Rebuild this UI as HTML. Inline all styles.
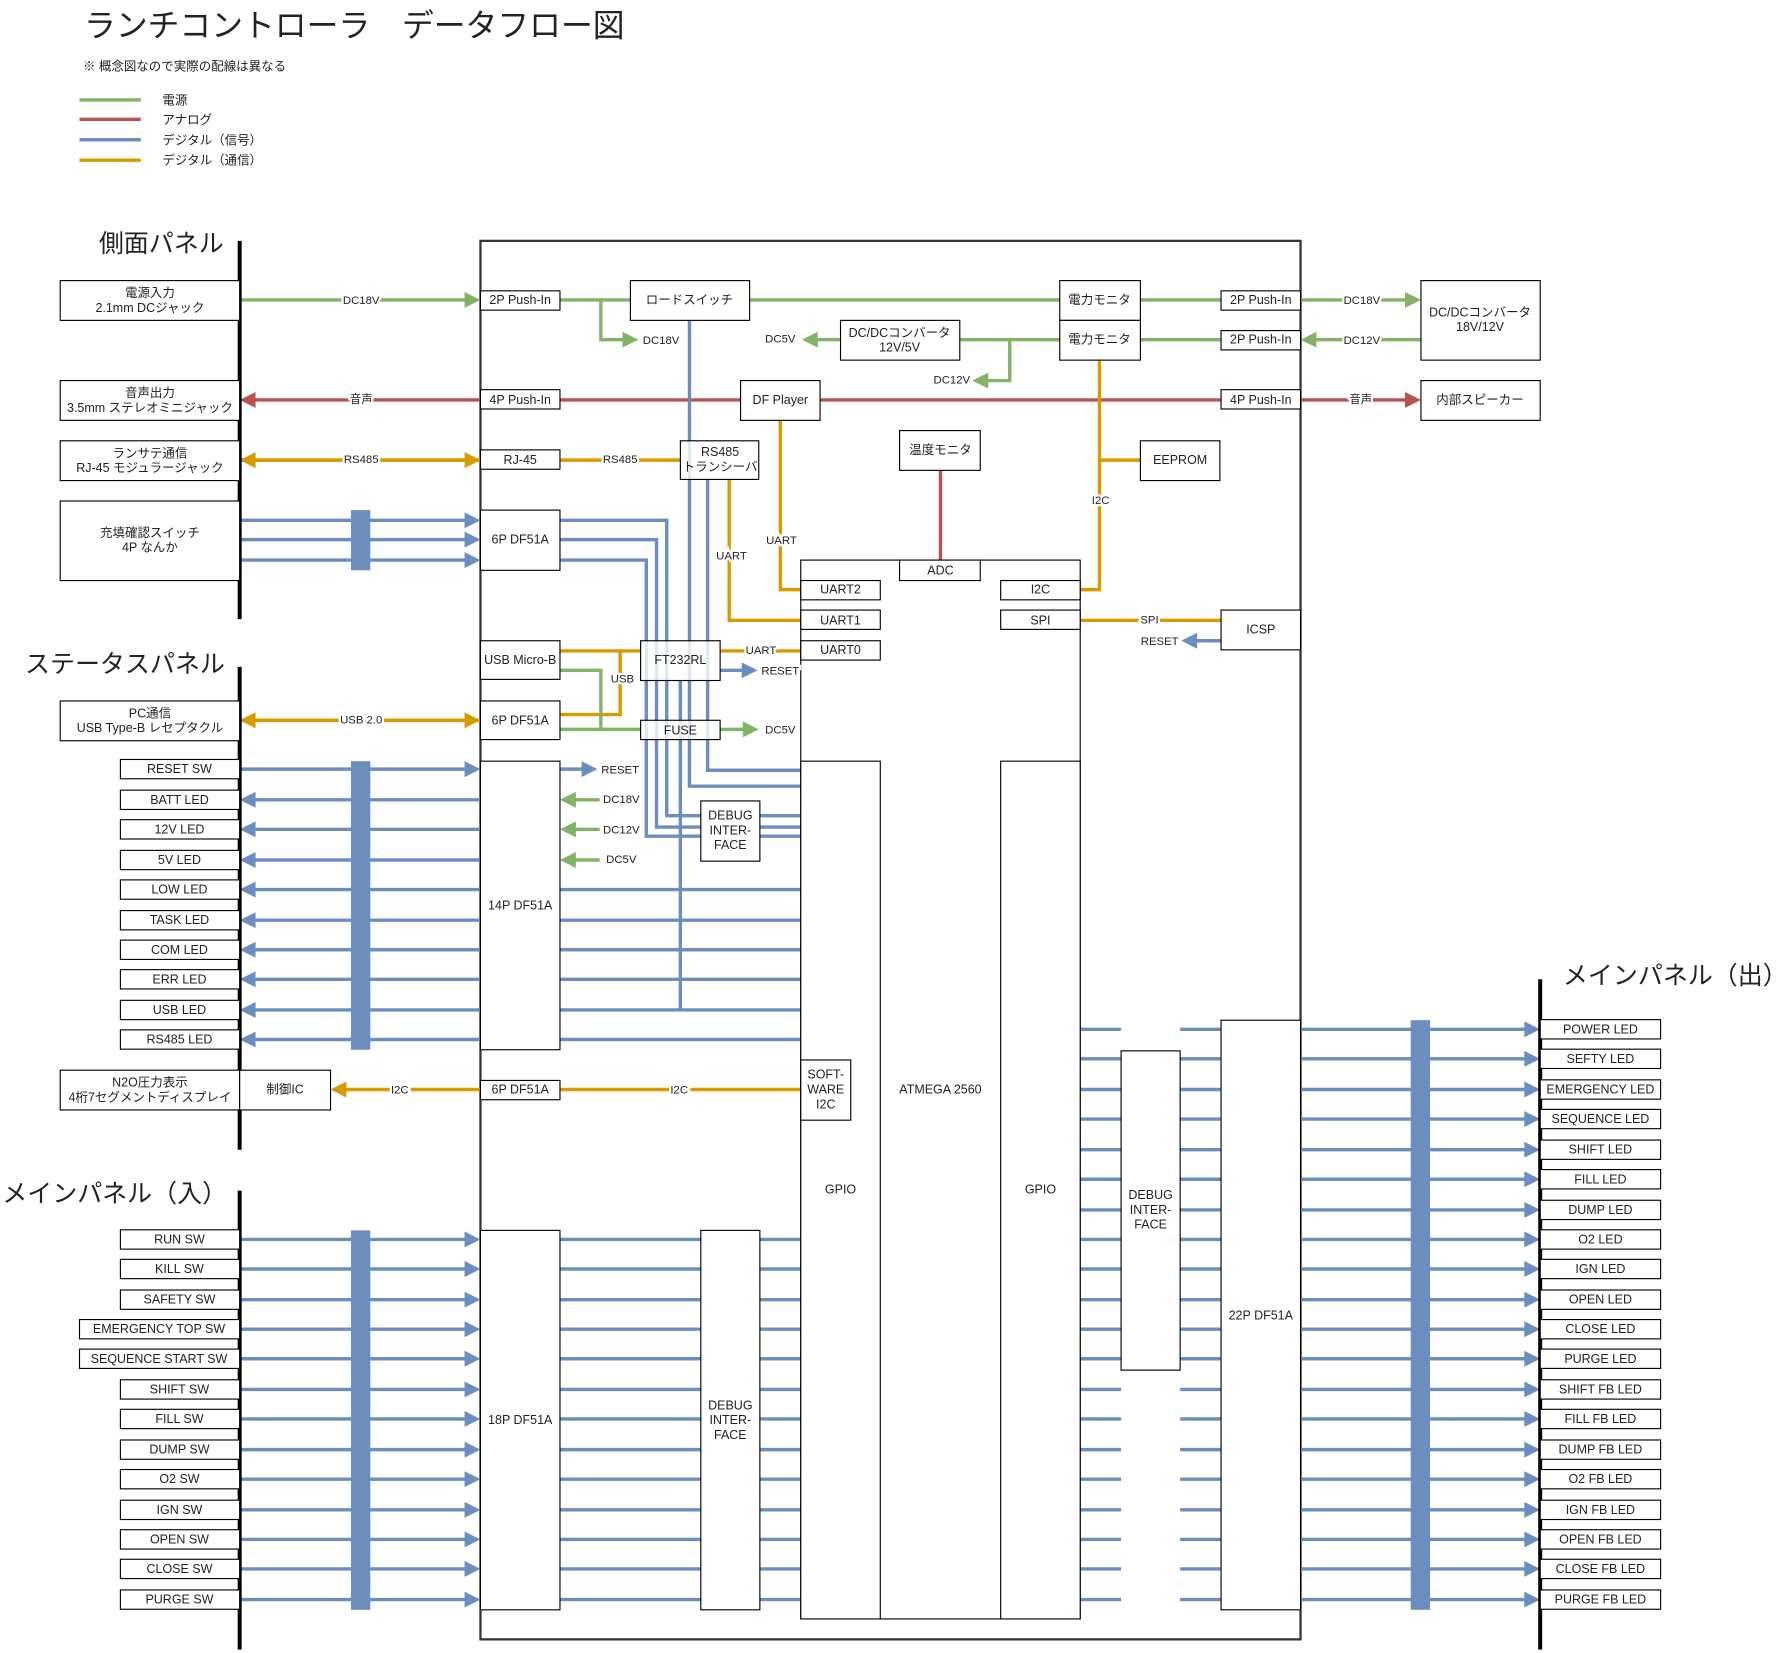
<!DOCTYPE html>
<html><head><meta charset="utf-8"><style>
html,body{margin:0;padding:0;background:#fff}
svg{display:block}
text{font-family:"Liberation Sans","Noto Sans CJK JP",sans-serif;fill:#222;font-size:11px}
.m{text-anchor:middle;dominant-baseline:central}
.lbl{text-anchor:middle;dominant-baseline:central;paint-order:stroke;stroke:#fff;stroke-width:4px;font-size:10px}
.t{font-size:28px;fill:#222}
.p{font-size:22px;fill:#222}
</style></head><body>
<svg id="s" width="1781" height="1653" viewBox="0 0 1568 1455" preserveAspectRatio="none" xmlns="http://www.w3.org/2000/svg">
<g id="geo"></g>
<g id="txt">
<text x="74" y="32" class="t">ランチコントローラ　データフロー図</text>
<text x="73" y="62">※ 概念図なので実際の配線は異なる</text>
<text x="143" y="92">電源</text>
<text x="143" y="109">アナログ</text>
<text x="143" y="127">デジタル（信号）</text>
<text x="143" y="145">デジタル（通信）</text>
<text x="87" y="222" class="p">側面パネル</text>
<text x="22" y="592" class="p">ステータスパネル</text>
<text x="2" y="1058" class="p">メインパネル（入）</text>
<text x="1376" y="866" class="p">メインパネル（出）</text>

<text x="132" y="258" class="m">電源入力</text><text x="132" y="271" class="m">2.1mm DCジャック</text>
<text x="132" y="346" class="m">音声出力</text><text x="132" y="359" class="m">3.5mm ステレオミニジャック</text>
<text x="132" y="399" class="m">ランサテ通信</text><text x="132" y="412" class="m">RJ-45 モジュラージャック</text>
<text x="132" y="469" class="m">充填確認スイッチ</text><text x="132" y="482" class="m">4P なんか</text>
<text x="132" y="628" class="m">PC通信</text><text x="132" y="641" class="m">USB Type-B レセプタクル</text>
<text x="132" y="953" class="m">N2O圧力表示</text><text x="132" y="966" class="m">4桁7セグメントディスプレイ</text>
<text x="251" y="959" class="m">制御IC</text>

<text x="158" y="677" class="m">RESET SW</text>
<text x="158" y="704" class="m">BATT LED</text>
<text x="158" y="730" class="m">12V LED</text>
<text x="158" y="757" class="m">5V LED</text>
<text x="158" y="783" class="m">LOW LED</text>
<text x="158" y="810" class="m">TASK LED</text>
<text x="158" y="836" class="m">COM LED</text>
<text x="158" y="862" class="m">ERR LED</text>
<text x="158" y="889" class="m">USB LED</text>
<text x="158" y="915" class="m">RS485 LED</text>

<text x="158" y="1091" class="m">RUN SW</text>
<text x="158" y="1117" class="m">KILL SW</text>
<text x="158" y="1144" class="m">SAFETY SW</text>
<text x="140" y="1170" class="m">EMERGENCY TOP SW</text>
<text x="140" y="1196" class="m">SEQUENCE START SW</text>
<text x="158" y="1223" class="m">SHIFT SW</text>
<text x="158" y="1249" class="m">FILL SW</text>
<text x="158" y="1276" class="m">DUMP SW</text>
<text x="158" y="1302" class="m">O2 SW</text>
<text x="158" y="1329" class="m">IGN SW</text>
<text x="158" y="1355" class="m">OPEN SW</text>
<text x="158" y="1381" class="m">CLOSE SW</text>
<text x="158" y="1408" class="m">PURGE SW</text>

<text x="1409" y="906" class="m">POWER  LED</text>
<text x="1409" y="932" class="m">SEFTY LED</text>
<text x="1409" y="959" class="m">EMERGENCY LED</text>
<text x="1409" y="985" class="m">SEQUENCE LED</text>
<text x="1409" y="1012" class="m">SHIFT LED</text>
<text x="1409" y="1038" class="m">FILL LED</text>
<text x="1409" y="1065" class="m">DUMP LED</text>
<text x="1409" y="1091" class="m">O2 LED</text>
<text x="1409" y="1117" class="m">IGN LED</text>
<text x="1409" y="1144" class="m">OPEN LED</text>
<text x="1409" y="1170" class="m">CLOSE LED</text>
<text x="1409" y="1196" class="m">PURGE LED</text>
<text x="1409" y="1223" class="m">SHIFT FB LED</text>
<text x="1409" y="1249" class="m">FILL FB LED</text>
<text x="1409" y="1276" class="m">DUMP FB LED</text>
<text x="1409" y="1302" class="m">O2 FB LED</text>
<text x="1409" y="1329" class="m">IGN FB LED</text>
<text x="1409" y="1355" class="m">OPEN FB LED</text>
<text x="1409" y="1381" class="m">CLOSE FB LED</text>
<text x="1409" y="1408" class="m">PURGE FB LED</text>

<text x="458" y="264" class="m">2P Push-In</text>
<text x="458" y="352" class="m">4P Push-In</text>
<text x="458" y="405" class="m">RJ-45</text>
<text x="458" y="475" class="m">6P DF51A</text>
<text x="458" y="581" class="m">USB Micro-B</text>
<text x="458" y="634" class="m">6P DF51A</text>
<text x="458" y="797" class="m">14P DF51A</text>
<text x="458" y="959" class="m">6P DF51A</text>
<text x="458" y="1250" class="m">18P DF51A</text>
<text x="607" y="264" class="m">ロードスイッチ</text>
<text x="968" y="264" class="m">電力モニタ</text>
<text x="968" y="299" class="m">電力モニタ</text>
<text x="792" y="293" class="m">DC/DCコンバータ</text><text x="792" y="306" class="m">12V/5V</text>
<text x="687" y="352" class="m">DF Player</text>
<text x="828" y="396" class="m">温度モニタ</text>
<text x="1039" y="405" class="m">EEPROM</text>
<text x="634" y="398" class="m">RS485</text><text x="634" y="411" class="m">トランシーバ</text>
<text x="599" y="581" class="m">FT232RL</text>
<text x="599" y="643" class="m">FUSE</text>
<text x="643" y="718" class="m">DEBUG</text><text x="643" y="731" class="m">INTER-</text><text x="643" y="744" class="m">FACE</text>
<text x="643" y="1237" class="m">DEBUG</text><text x="643" y="1250" class="m">INTER-</text><text x="643" y="1263" class="m">FACE</text>
<text x="1013" y="1052" class="m">DEBUG</text><text x="1013" y="1065" class="m">INTER-</text><text x="1013" y="1078" class="m">FACE</text>
<text x="1110" y="264" class="m">2P Push-In</text>
<text x="1110" y="299" class="m">2P Push-In</text>
<text x="1110" y="352" class="m">4P Push-In</text>
<text x="1110" y="554" class="m">ICSP</text>
<text x="1110" y="1158" class="m">22P DF51A</text>
<text x="1303" y="275" class="m">DC/DCコンバータ</text><text x="1303" y="288" class="m">18V/12V</text>
<text x="1303" y="352" class="m">内部スピーカー</text>
<text x="828" y="502" class="m">ADC</text>
<text x="740" y="519" class="m">UART2</text>
<text x="740" y="546" class="m">UART1</text>
<text x="740" y="572" class="m">UART0</text>
<text x="916" y="519" class="m">I2C</text>
<text x="916" y="546" class="m">SPI</text>
<text x="727" y="946" class="m">SOFT-</text><text x="727" y="959" class="m">WARE</text><text x="727" y="972" class="m">I2C</text>
<text x="828" y="959" class="m">ATMEGA 2560</text>
<text x="740" y="1047" class="m">GPIO</text>
<text x="916" y="1047" class="m">GPIO</text>

<text x="318" y="265" class="lbl">DC18V</text>
<text x="318" y="352" class="lbl">音声</text>
<text x="318" y="405" class="lbl">RS485</text>
<text x="546" y="405" class="lbl">RS485</text>
<text x="318" y="634" class="lbl">USB 2.0</text>
<text x="352" y="960" class="lbl">I2C</text>
<text x="598" y="960" class="lbl">I2C</text>
<text x="582" y="300" class="lbl">DC18V</text>
<text x="687" y="299" class="lbl">DC5V</text>
<text x="838" y="335" class="lbl">DC12V</text>
<text x="1199" y="265" class="lbl">DC18V</text>
<text x="1199" y="300" class="lbl">DC12V</text>
<text x="1198" y="352" class="lbl">音声</text>
<text x="688" y="476" class="lbl">UART</text>
<text x="644" y="490" class="lbl">UART</text>
<text x="969" y="441" class="lbl">I2C</text>
<text x="548" y="598" class="lbl">USB</text>
<text x="670" y="573" class="lbl">UART</text>
<text x="687" y="591" class="lbl">RESET</text>
<text x="687" y="643" class="lbl">DC5V</text>
<text x="546" y="678" class="lbl">RESET</text>
<text x="547" y="704" class="lbl">DC18V</text>
<text x="547" y="731" class="lbl">DC12V</text>
<text x="547" y="757" class="lbl">DC5V</text>
<text x="1012" y="546" class="lbl">SPI</text>
<text x="1021" y="565" class="lbl">RESET</text>
</g>
</svg>
<script>
(function(){
var NS="http://www.w3.org/2000/svg",g=document.getElementById('geo');
var G="#82b366",R="#b85450",B="#6c8ebf",O="#d79b00";
function el(n,a){var e=document.createElementNS(NS,n);for(var k in a)e.setAttribute(k,a[k]);g.appendChild(e);return e;}
function pl(pts,c,w){el('polyline',{points:pts.map(function(p){return p.join(',')}).join(' '),fill:'none',stroke:c,'stroke-width':w||3});}
function head(x,y,dir,c){el('polygon',{points:[x,y,x-14*dir,y-7,x-14*dir,y+7].join(' '),fill:c});}
function ar(x1,y,x2,c,both){pl([[x1,y],[x2-(x2>x1?10:-10),y]],c);head(x2,y,x2>x1?1:-1,c);if(both){pl([[x1,y],[x2,y]],c);head(x1,y,x1>x2?1:-1,c);}}
function box(x1,y1,x2,y2,f){el('rect',{x:x1,y:y1,width:x2-x1,height:y2-y1,fill:f||'#fff',stroke:'#000','stroke-width':1});}
function bar(x,y1,y2){el('line',{x1:x,y1:y1,x2:x,y2:y2,stroke:'#000','stroke-width':3.5});}
pl([[70,88],[124,88]],G);pl([[70,105],[124,105]],R);pl([[70,123],[124,123]],B);pl([[70,141],[124,141]],O);
el('rect',{x:423,y:212,width:722,height:1231,fill:'none',stroke:'#333','stroke-width':2});
ar(211,264,423,G);ar(423,352,211,R);ar(211,405,423,O,true);
[458,475,493].forEach(function(y){ar(211,y,423,B);});
ar(211,634,423,O,true);
ar(211,677,423,B);
[704,730,757,783,810,836,862,889,915].forEach(function(y){ar(423,y,211,B);});
ar(423,959,291,O);
var sw=[1091,1117,1144,1170,1196,1223,1249,1276,1302,1329,1355,1381,1408];
sw.forEach(function(y){ar(211,y,423,B);pl([[493,y],[617,y]],B);pl([[669,y],[705,y]],B);});
var rows=[906,932,959,985,1012,1038,1065,1091,1117,1144,1170,1196,1223,1249,1276,1302,1329,1355,1381,1408];
rows.forEach(function(y){ar(1145,y,1356,B);pl([[951,y],[987,y]],B);pl([[1039,y],[1075,y]],B);});
el('rect',{x:309,y:449,width:17,height:53,fill:B});
el('rect',{x:309,y:670,width:17,height:254,fill:B});
el('rect',{x:309,y:1083,width:17,height:334,fill:B});
el('rect',{x:1242,y:898,width:17,height:519,fill:B});
pl([[493,264],[555,264]],G);pl([[529,264],[529,299],[550,299]],G);head(562,299,1,G);
pl([[660,264],[933,264]],G);pl([[1004,264],[1075,264]],G);ar(1145,264,1251,G);
ar(1251,299,1145,G);pl([[1004,299],[1075,299]],G);pl([[845,299],[933,299]],G);
pl([[889,299],[889,335],[868,335]],G);head(856,335,-1,G);ar(740,299,706,G);
pl([[493,352],[652,352]],R);pl([[722,352],[1075,352]],R);ar(1145,352,1251,R);
pl([[493,405],[599,405]],O);
pl([[687,370],[687,519],[705,519]],O);
pl([[642,422],[642,546],[705,546]],O);
pl([[968,317],[968,519],[951,519]],O);pl([[968,405],[1004,405]],O);
pl([[951,546],[1075,546]],O);ar(1075,564,1040,B);
pl([[828,414],[828,493]],R,3);
pl([[607,282],[607,692],[705,692]],B);
pl([[623,422],[623,678],[705,678]],B);
pl([[599,599],[599,889]],B);
pl([[493,458],[587,458],[587,718],[705,718]],B);
pl([[493,475],[578,475],[578,728],[705,728]],B);
pl([[493,493],[569,493],[569,736],[705,736]],B);
[783,810,836,862,889,915].forEach(function(y){pl([[493,y],[705,y]],B);});
pl([[493,573],[564,573]],O);pl([[493,629],[546,629],[546,573]],O);
pl([[493,590],[529,590],[529,642]],G);pl([[493,642],[564,642]],G);ar(634,642,668,G);
pl([[634,573],[705,573]],O);ar(634,590,667,B);
ar(493,677,526,B);
[704,730,757].forEach(function(y){ar(528,y,493,G);});
pl([[493,959],[705,959]],O);
bar(211,212,545);bar(211,587,1012);bar(211,1048,1452);bar(1356,862,1452);
box(53,247,211,282);box(53,335,211,370);box(53,388,211,423);box(53,441,211,511);
box(53,617,211,652);
[677,704,730,757,783,810,836,862,889,915].forEach(function(y){box(106,y-8.5,211,y+8.5);});
box(53,942,211,977);box(211,942,291,977);
sw.forEach(function(y,i){box((i==3||i==4)?70:106,y-8.5,211,y+8.5);});
rows.forEach(function(y){box(1356,y-8.5,1462,y+8.5);});
box(423,256,493,273);box(423,343,493,360);box(423,396,493,413);box(423,449,493,502);
box(423,564,493,598);box(423,617,493,651);box(423,670,493,924);box(423,951,493,968);box(423,1083,493,1417);
box(555,247,660,282);box(933,247,1004,282);box(933,282,1004,317);box(740,282,845,317);
box(652,335,722,370);box(792,379,863,414);box(1004,388,1074,423);
box(599,388,668,422,'rgba(255,255,255,0.8)');box(564,564,634,599,'rgba(255,255,255,0.8)');box(564,634,634,651,'rgba(255,255,255,0.8)');
box(617,705,669,758);box(617,1083,669,1417);
box(1075,256,1145,273);box(1075,291,1145,308);box(1075,343,1145,360);box(1075,537,1145,572);
box(1075,898,1145,1417);box(987,925,1039,1206);
box(1251,247,1356,317);box(1251,335,1356,370);
box(705,493,951,1425,'none');
box(705,670,775,1425);box(881,670,951,1425);
box(792,493,863,511);box(705,511,775,528);box(705,537,775,554);box(705,564,775,581);
box(881,511,951,528);box(881,537,951,554);box(705,933,749,986);
})();
</script>
</body></html>
